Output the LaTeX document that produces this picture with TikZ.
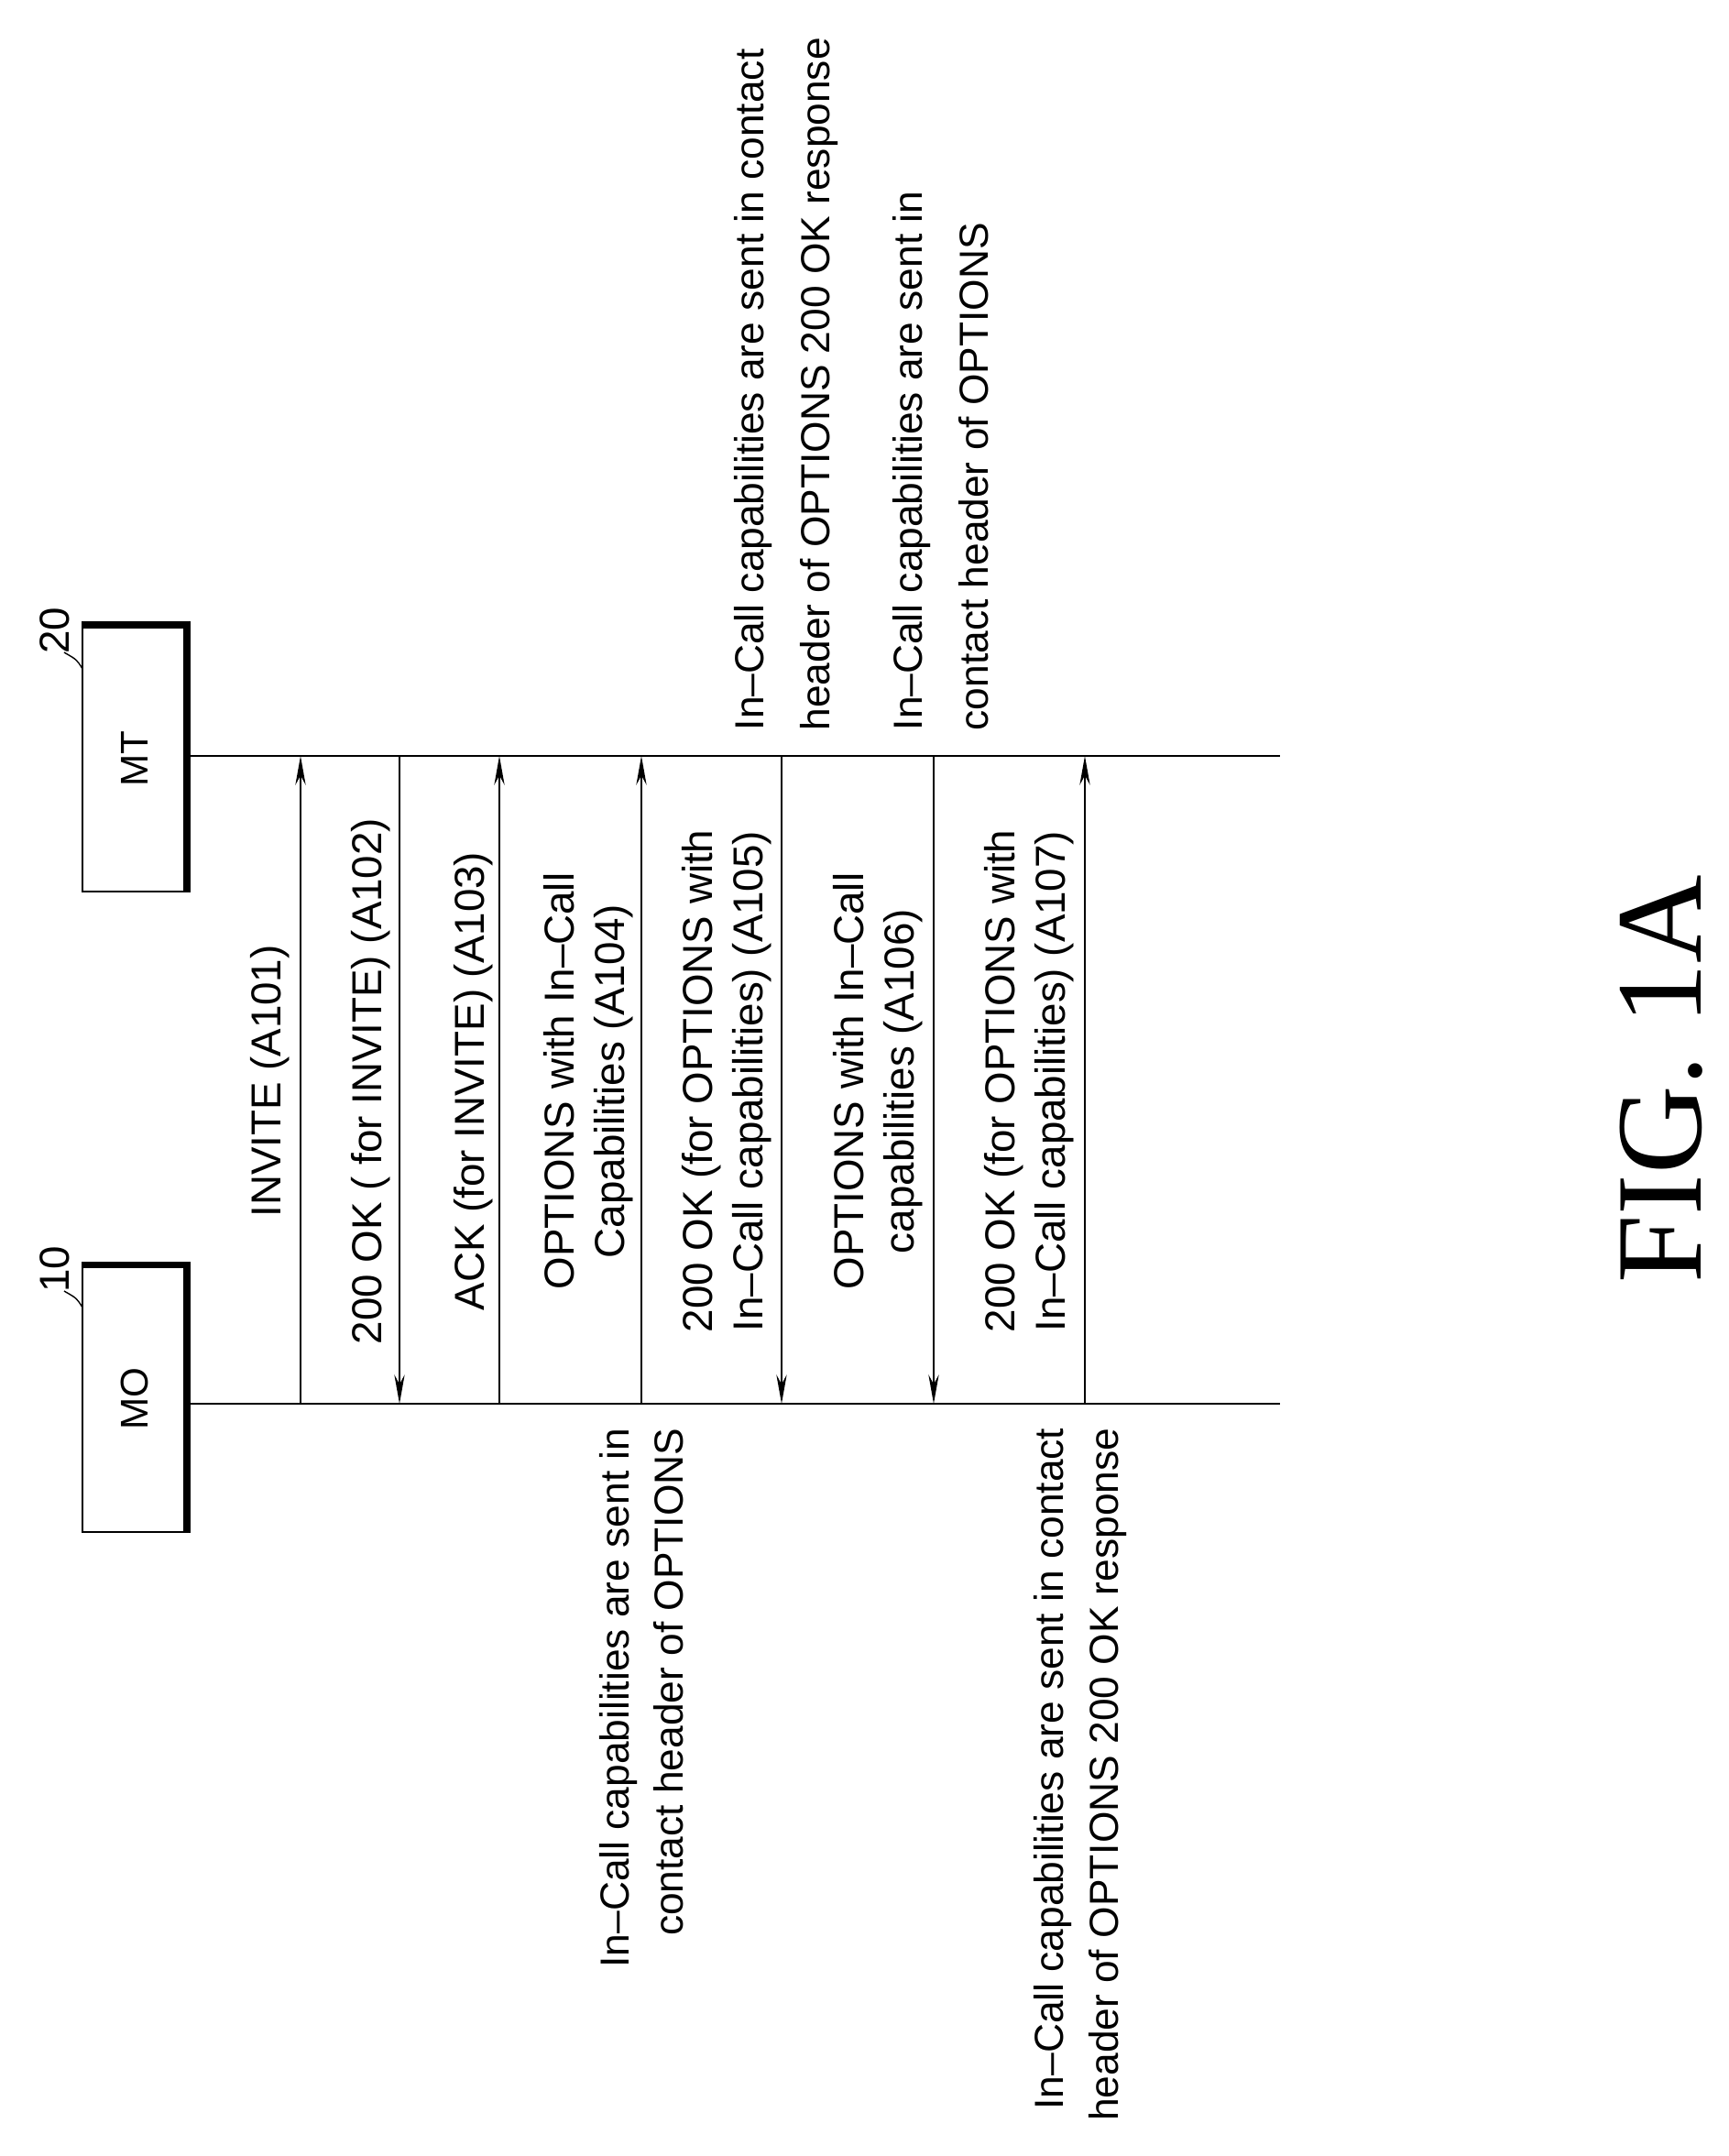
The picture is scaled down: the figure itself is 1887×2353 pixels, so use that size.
\documentclass[tikz,border=0pt]{standalone}
\usepackage{fontspec}
\setmainfont{Liberation Sans}
\newfontfamily\figfont{Liberation Serif}
\usetikzlibrary{arrows.meta,positioning,calc}
\tikzset{
  msg/.style={-{Stealth[length=9pt,width=3.2pt]},line width=0.7pt},
  lbl/.style={rotate=90,align=center,font=\fontsize{13}{15.5}\selectfont,inner sep=0pt},
  note/.style={rotate=90,font=\fontsize{12.6}{#1}\selectfont,inner sep=0pt},
  note/.default=20.5,
  box/.style={draw,line width=0.6pt,minimum width=2.9cm,minimum height=1.13cm,rotate=90,inner sep=0pt,font=\fontsize{12}{12}\selectfont}
}
\begin{document}
\begin{tikzpicture}[x=0.01cm,y=-0.01cm]
\useasboundingbox (0,0) rectangle (1887,2353);
% entities
\node[box] (mt) at (146.5,828) {MT};
\node[box] (mo) at (146.5,1526.5) {MO};
\draw[line width=2.2pt] (mt.north east) -- (mt.south east) -- (mt.south west);
\draw[line width=2.2pt] (mo.north east) -- (mo.south east) -- (mo.south west);
\node[rotate=90,font=\fontsize{13}{13}\selectfont] (n20) at (60,688) {20};
\draw (90,730) .. controls (84,720) .. (70,712);
\node[rotate=90,font=\fontsize{13}{13}\selectfont] (n10) at (60,1385) {10};
\draw (90,1427) .. controls (84,1417) .. (70,1409);
% lifelines
\coordinate (mt0) at (203,825);
\coordinate (mt1) at (1397,825);
\coordinate (mo0) at (203,1532);
\coordinate (mo1) at (1397,1532);
\draw[line width=0.8pt] (mt0) -- (mt1);
\draw[line width=0.8pt] (mo0) -- (mo1);
% messages
\coordinate (a1) at (328,825);  \coordinate (b1) at (328,1532);
\coordinate (a2) at (436,825);  \coordinate (b2) at (436,1532);
\coordinate (a3) at (545,825);  \coordinate (b3) at (545,1532);
\coordinate (a4) at (700,825);  \coordinate (b4) at (700,1532);
\coordinate (a5) at (853,825);  \coordinate (b5) at (853,1532);
\coordinate (a6) at (1019,825); \coordinate (b6) at (1019,1532);
\coordinate (a7) at (1184,825); \coordinate (b7) at (1184,1532);
\draw[msg] (b1) -- (a1);
\draw[msg] (a2) -- (b2);
\draw[msg] (b3) -- (a3);
\draw[msg] (b4) -- (a4);
\draw[msg] (a5) -- (b5);
\draw[msg] (a6) -- (b6);
\draw[msg] (b7) -- (a7);
\node[lbl] (m1) at (295,1180) {INVITE (A101)};
\node[lbl] (m2) at (405,1180) {200 OK ( for INVITE) (A102)};
\node[lbl] (m3) at (517,1180) {ACK (for INVITE) (A103)};
\node[lbl] (m4) at (642,1180) {OPTIONS with In--Call\\Capabilities (A104)};
\node[lbl] (m5) at (793,1180) {200 OK (for OPTIONS with\\In--Call capabilities) (A105)};
\node[lbl] (m6) at (958,1180) {OPTIONS with In--Call\\capabilities (A106)};
\node[lbl] (m7) at (1123,1180) {200 OK (for OPTIONS with\\In--Call capabilities) (A107)};
% notes
\node[note,anchor=south west,align=left] (t5) at (915,798) {In--Call capabilities are sent in contact\\header of OPTIONS 200 OK response};
\node[note,anchor=south west,align=left] (t6) at (1080,798) {In--Call capabilities are sent in\\contact header of OPTIONS};
\node[note=17,anchor=south east,align=right] (t4) at (747,1558) {In--Call capabilities are sent in\\contact header of OPTIONS};
\node[note=17,anchor=south east,align=right] (t7) at (1230,1558) {In--Call capabilities are sent in contact\\header of OPTIONS 200 OK response};
\node[rotate=90,font=\figfont\fontsize{38}{38}\selectfont] (fig) at (1813,1178) {FIG. 1A};
\end{tikzpicture}
\end{document}
